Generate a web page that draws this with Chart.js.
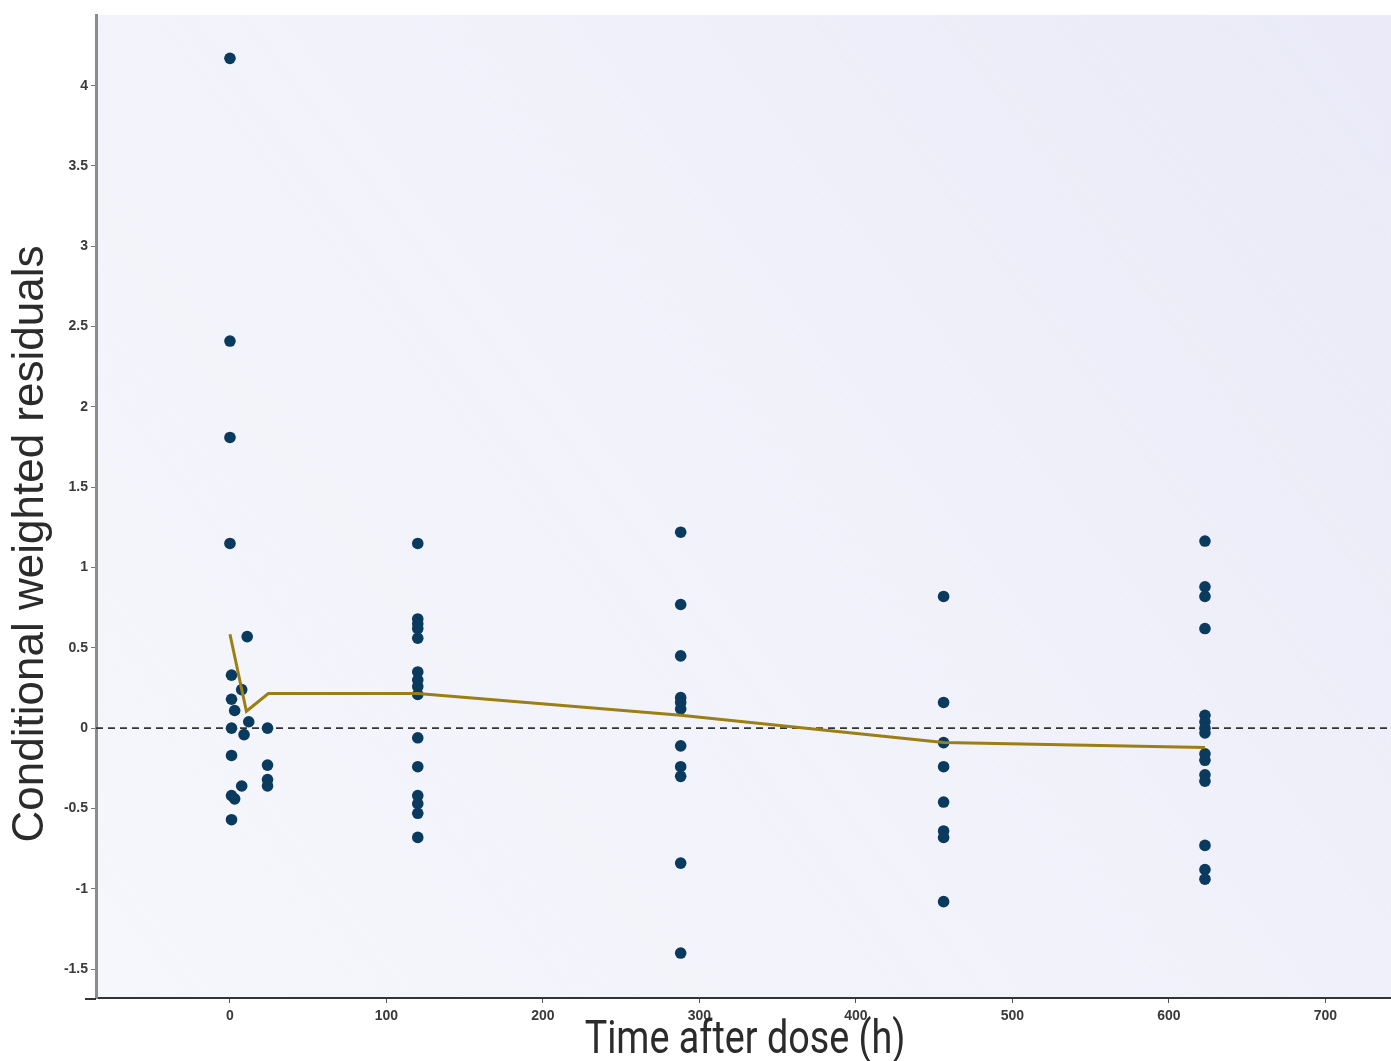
<!DOCTYPE html>
<html lang="en">
<head>
    <meta charset="UTF-8">
    <title>Conditional weighted residuals vs time</title>
    <script src="https://cdn.jsdelivr.net/npm/chart.js"></script>
    <style>
        html, body {
            margin: 0;
            padding: 0;
            background: #ffffff;
            overflow: hidden;
        }
        canvas {
            display: block;
        }
    </style>
</head>
<body>
    <canvas id="cwresChart" width="1397" height="1061"></canvas>

    <script>
        // observed conditional weighted residuals, grouped by sampling time (h)
        const timeH = [
            0, 0, 0, 0, 11, 1, 7.5, 1, 3, 12, 1, 9, 24, 1, 24, 24, 24, 7.5, 1, 3, 1,
            120, 120, 120, 120, 120, 120, 120, 120, 120, 120, 120, 120, 120, 120, 120,
            288, 288, 288, 288, 288, 288, 288, 288, 288, 288, 288,
            456, 456, 456, 456, 456, 456, 456, 456,
            623, 623, 623, 623, 623, 623, 623, 623, 623, 623, 623, 623, 623, 623, 623
        ];
        const cwres = [
            4.17, 2.41, 1.81, 1.15, 0.57, 0.33, 0.24, 0.18, 0.11, 0.04, 0.0, -0.04, 0.0, -0.17, -0.23, -0.32, -0.36, -0.36, -0.42, -0.44, -0.57,
            1.15, 0.68, 0.65, 0.62, 0.56, 0.35, 0.30, 0.26, 0.21, -0.06, -0.24, -0.42, -0.47, -0.53, -0.68,
            1.22, 0.77, 0.45, 0.19, 0.16, 0.12, -0.11, -0.24, -0.30, -0.84, -1.40,
            0.82, 0.16, -0.09, -0.24, -0.46, -0.64, -0.68, -1.08,
            1.165, 0.88, 0.82, 0.62, 0.08, 0.04, 0.0, -0.03, -0.16, -0.20, -0.29, -0.33, -0.73, -0.88, -0.94
        ];

        // smoothed trend
        const trendTime = [0, 10.5, 24.5, 120, 288, 456, 623];
        const trendCwres = [0.585, 0.105, 0.215, 0.215, 0.08, -0.09, -0.12];

        const xTicks = [0, 100, 200, 300, 400, 500, 600, 700];
        const yTicks = [-1.5, -1, -0.5, 0, 0.5, 1, 1.5, 2, 2.5, 3, 3.5, 4];
        const xRange = [-85.6, 742];
        const yRange = [-1.68, 4.44];

        const bgPlugin = {
            id: 'bg',
            beforeDraw(chart) {
                const { ctx, chartArea: a } = chart;
                ctx.save();
                ctx.fillStyle = '#ffffff';
                ctx.fillRect(0, 0, chart.width, chart.height);
                const g = ctx.createLinearGradient(a.left, a.bottom, a.right, a.top);
                g.addColorStop(0, '#f6f7fc');
                g.addColorStop(0.5, '#f1f2fa');
                g.addColorStop(1, '#eaeaf8');
                ctx.fillStyle = g;
                ctx.fillRect(a.left, a.top, a.right - a.left, a.bottom - a.top);
                ctx.restore();
            }
        };

        const titlePlugin = {
            id: 'axisTitles',
            afterDraw(chart) {
                const ctx = chart.ctx;
                const a = chart.chartArea;
                ctx.save();
                // x axis line runs a little past the y axis on the left
                ctx.strokeStyle = '#333333';
                ctx.lineWidth = 2;
                ctx.beginPath();
                ctx.moveTo(a.left - 11, a.bottom + 1);
                ctx.lineTo(a.left, a.bottom + 1);
                ctx.stroke();

                ctx.fillStyle = '#2b2b2b';
                ctx.textAlign = 'center';
                ctx.textBaseline = 'middle';

                ctx.save();
                ctx.translate(31, 544);
                ctx.rotate(-Math.PI / 2);
                ctx.font = '44px "Liberation Sans", Arial, sans-serif';
                ctx.fillText('Conditional weighted residuals', 0, 0);
                ctx.restore();

                ctx.save();
                ctx.translate(745, 1041);
                ctx.scale(0.82, 1);
                ctx.font = '46px Roboto, sans-serif';
                ctx.fillText('Time after dose (h)', 0, 0);
                ctx.restore();

                ctx.restore();
            }
        };

        const ctx = document.getElementById('cwresChart').getContext('2d');
        new Chart(ctx, {
            type: 'scatter',
            data: {
                datasets: [
                    {
                        label: 'zero',
                        data: [{ x: xRange[0], y: 0 }, { x: xRange[1], y: 0 }],
                        showLine: true,
                        borderColor: '#333333',
                        borderWidth: 1.6,
                        borderDash: [7, 5],
                        pointRadius: 0,
                        order: 3
                    },
                    {
                        label: 'CWRES',
                        data: timeH.map((t, i) => ({ x: t, y: cwres[i] })),
                        backgroundColor: '#0a3a5e',
                        borderColor: '#0a3a5e',
                        pointRadius: 5.8,
                        borderWidth: 0,
                        order: 2
                    },
                    {
                        label: 'trend',
                        data: trendTime.map((t, i) => ({ x: t, y: trendCwres[i] })),
                        showLine: true,
                        borderColor: '#9b7e14',
                        borderWidth: 3,
                        pointRadius: 0,
                        order: 1
                    }
                ]
            },
            options: {
                responsive: false,
                animation: false,
                devicePixelRatio: 1,
                layout: { padding: { top: 15, left: 0, right: 0, bottom: 0 } },
                plugins: {
                    legend: { display: false },
                    tooltip: { enabled: false }
                },
                scales: {
                    x: {
                        type: 'linear',
                        min: xRange[0],
                        max: xRange[1],
                        afterBuildTicks: s => { s.ticks = xTicks.map(v => ({ value: v })); },
                        afterFit: s => { s.height = 63; },
                        ticks: {
                            autoSkip: false,
                            color: '#3a3a3a',
                            font: { family: '"Liberation Sans", Arial', size: 14, weight: 'bold' },
                            padding: 5,
                            maxRotation: 0,
                            callback: v => String(v)
                        },
                        grid: {
                            drawOnChartArea: false,
                            drawTicks: true,
                            tickLength: 5,
                            color: '#555555'
                        },
                        border: { color: '#333333', width: 2 }
                    },
                    y: {
                        min: yRange[0],
                        max: yRange[1],
                        afterBuildTicks: s => { s.ticks = yTicks.map(v => ({ value: v })); },
                        afterFit: s => { s.width = 96; },
                        ticks: {
                            autoSkip: false,
                            color: '#3a3a3a',
                            font: { family: '"Liberation Sans", Arial', size: 14, weight: 'bold' },
                            padding: 3,
                            callback: v => String(Math.round(v * 10) / 10)
                        },
                        grid: {
                            drawOnChartArea: false,
                            drawTicks: true,
                            tickLength: 5,
                            color: '#777777'
                        },
                        border: { color: '#8c8c8c', width: 3 }
                    }
                }
            },
            plugins: [bgPlugin, titlePlugin]
        });
    </script>
</body>
</html>
